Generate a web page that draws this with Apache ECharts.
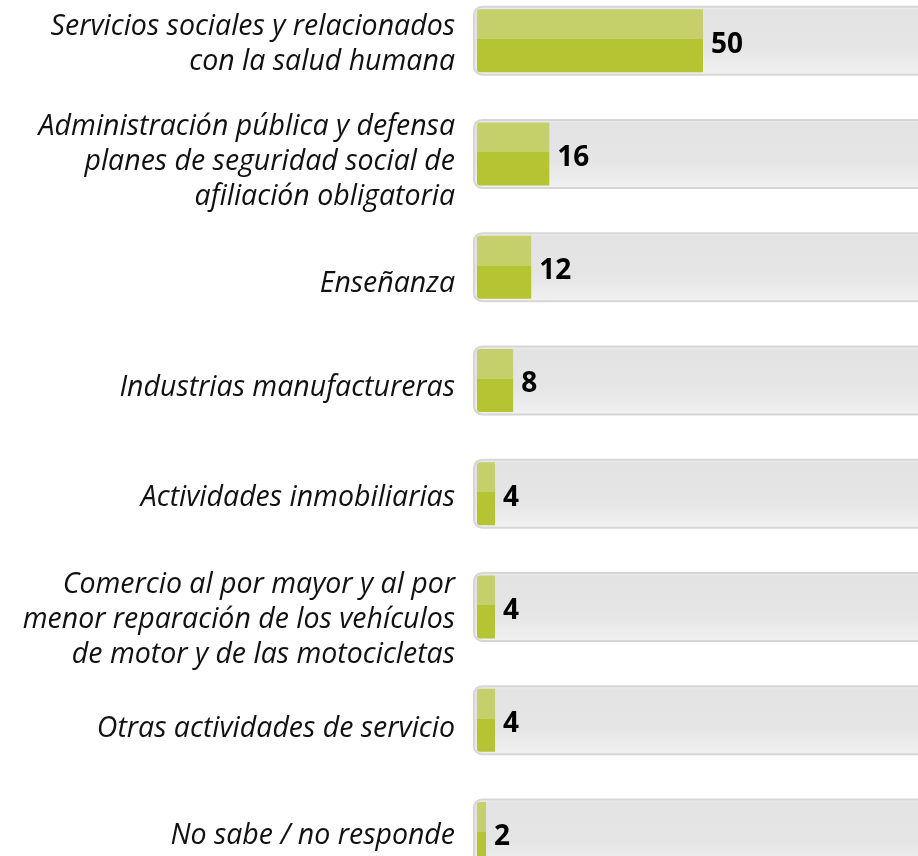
<!DOCTYPE html>
<html>
<head>
<meta charset="utf-8">
<script src="https://cdn.jsdelivr.net/npm/echarts@6/dist/echarts.min.js"></script>
<style>
  html, body { margin: 0; padding: 0; background: #ffffff; overflow: hidden; width: 918px; height: 856px; }
  /* the canvas runs past the window so the rows and the open-ended track keep their full pitch */
  #chart { position: absolute; left: 0; top: -16px; width: 940px; height: 906px; }
</style>
</head>
<body>
<div id="chart"></div>
<script>
// Sector categories (line breaks as they are set in the labels)
const categories = [
  'Servicios sociales y relacionados\ncon la salud humana',
  'Administración pública y defensa\nplanes de seguridad social de\nafiliación obligatoria',
  'Enseñanza',
  'Industrias manufactureras',
  'Actividades inmobiliarias',
  'Comercio al por mayor y al por\nmenor reparación de los vehículos\nde motor y de las motocicletas',
  'Otras actividades de servicio',
  'No sabe / no responde'
];

// Percentage per sector
const values = [50, 16, 12, 8, 4, 4, 4, 2];

// Full scale of the value axis; the grey track spans it
const scaleMax = 100;

// Vertical nudge (px, downward) of each category label relative to its bar
const labelNudge = [4, 8, 17, 7, 4, 13, 9, 2];

const chart = echarts.init(document.getElementById('chart'), null, { renderer: 'canvas' });

const textFont = '"Open Sans", Lato, sans-serif';

// Grey track per row; it also carries the category name on its left
const trackData = categories.map((name, i) => ({
  value: scaleMax,
  label: { offset: [0, labelNudge[i]] }
}));

const greenFill = new echarts.graphic.LinearGradient(0, 0, 0, 1, [
  { offset: 0, color: '#c5d06b' },
  { offset: 0.476, color: '#c5d06b' },
  { offset: 0.476, color: '#b5c432' },
  { offset: 1, color: '#b5c432' }
]);

const trackFill = new echarts.graphic.LinearGradient(0, 0, 0, 1, [
  { offset: 0, color: '#f4f4f4' },
  { offset: 0.06, color: '#e4e3e3' },
  { offset: 0.6, color: '#e6e5e5' },
  { offset: 1, color: '#f1f1f1' }
]);

const option = {
  animation: false,
  backgroundColor: '#ffffff',
  grid: [
    { left: 477, top: 0, width: 452, height: 906 },
    { left: 473, top: 0, width: 460, height: 906 }
  ],
  xAxis: [
    { gridIndex: 0, type: 'value', min: 0, max: scaleMax, show: false },
    { gridIndex: 1, type: 'value', min: 0, max: scaleMax, show: false }
  ],
  yAxis: [
    {
      gridIndex: 0,
      type: 'category',
      data: categories,
      inverse: true,
      show: false
    },
    {
      gridIndex: 1,
      type: 'category',
      data: categories,
      inverse: true,
      show: false
    }
  ],
  series: [
    {
      name: 'track',
      type: 'bar',
      xAxisIndex: 1,
      yAxisIndex: 1,
      data: trackData,
      barWidth: 70,
      silent: true,
      itemStyle: {
        color: trackFill,
        borderColor: '#d6d6d6',
        borderWidth: 2,
        borderRadius: 8
      },
      label: {
        show: true,
        position: 'left',
        distance: 18,
        formatter: (p) => categories[p.dataIndex],
        align: 'right',
        verticalAlign: 'middle',
        fontFamily: textFont,
        fontStyle: 'italic',
        fontSize: 28.5,
        lineHeight: 35,
        color: '#111111'
      }
    },
    {
      name: 'valor',
      type: 'bar',
      xAxisIndex: 0,
      yAxisIndex: 0,
      data: values,
      barWidth: 63,
      itemStyle: {
        color: greenFill,
        borderRadius: [3, 0, 0, 3]
      },
      label: {
        show: true,
        position: 'right',
        distance: 8,
        offset: [0, 4],
        fontFamily: textFont,
        fontWeight: 'bold',
        fontSize: 28,
        color: '#000000'
      }
    }
  ]
};

chart.setOption(option);
</script>
</body>
</html>
